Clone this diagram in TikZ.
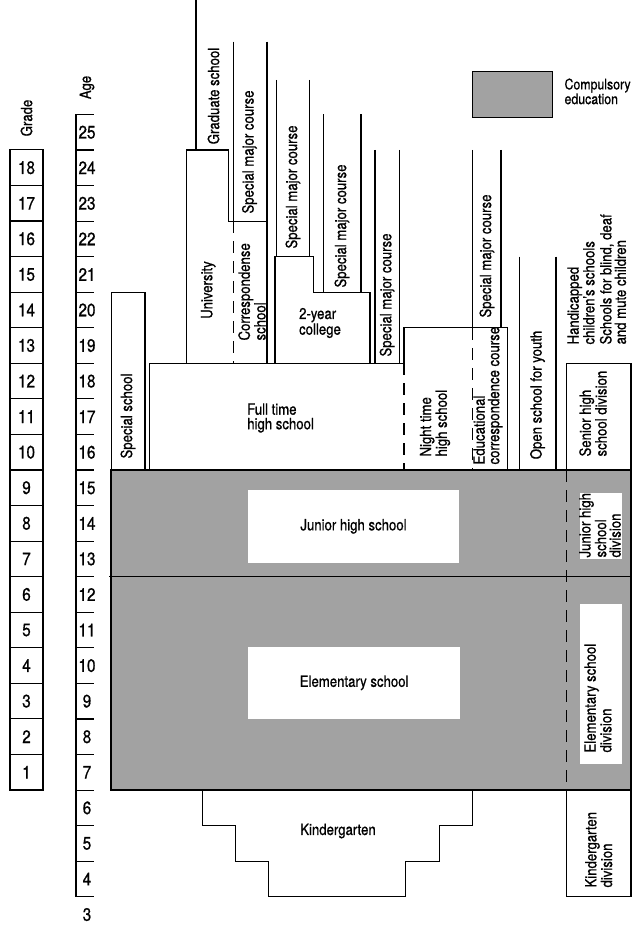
\documentclass[tikz,border=0pt]{standalone}
\usepackage{fontspec}
\setmainfont[FakeStretch=0.85,FakeBold=0.8]{TeX Gyre Heros}
\newcommand\lbfont{\fontsize{15.5}{14.5}\selectfont}
\newcommand\lgfont{\fontsize{14.5}{13.5}\selectfont}
\newcommand\nmfont{\fontsize{18}{18}\selectfont}
\definecolor{compul}{RGB}{162,162,162}
\tikzset{
  dsh/.style={dash pattern=on 12pt off 8pt},
  lbl/.style={font=\lbfont, inner sep=0pt, align=left},
  vlbl/.style={lbl, rotate=90},
  num/.style={font=\nmfont, inner sep=0pt},
  cell/.style={draw, minimum width=33pt, minimum height=35.56pt, inner sep=0pt, font=\nmfont},
  wbox/.style={fill=white, draw=none, inner sep=0pt},
}
\begin{document}
\begin{tikzpicture}[x=1pt,y=-1pt,line width=1.1pt]
\useasboundingbox (0,0) rectangle (632,925);

% ---------- grade column
\node[vlbl] (gradeT) at (26.5,118) {Grade};
\foreach \g in {1,...,18}
  \node[cell] (g\g) at (26.5,{790-(\g-0.5)*35.56}) {\g};

% ---------- age column
\node[vlbl] (ageT) at (87,87.5) {Age};
\coordinate (atop) at (76,114.44);
\coordinate (abot) at (76,896.67);
\draw (atop) -- (abot);
\foreach \a in {3,...,25} {
  \coordinate (t\a) at (76,{150+(24-\a)*35.56});
  \coordinate (u\a) at (94,{150+(24-\a)*35.56});
  \draw (t\a) -- (u\a);
  \node[num] (a\a) at (87,{150+(24-\a)*35.56+17.78}) {\a};
}

% ---------- legend
\node[draw, fill=compul, minimum width=80.4pt, minimum height=45.6pt, inner sep=0pt] (leg) at (512.5,94.5) {};
\node[lbl, font=\lgfont, anchor=north west] (legT) at (564,78) {Compulsory\\education};

% ---------- compulsory education block
\fill[compul] (111,470) rectangle (631,790);
\draw (111,470) rectangle (631,790);
\draw (109,576.67) -- (631,576.67);
\node[wbox, minimum width=211.6pt, minimum height=72.7pt, font=\lbfont] (jhs) at (353.5,526.35) {Junior high school};
\node[wbox, minimum width=211.7pt, minimum height=72.3pt, font=\lbfont] (els) at (354.15,682.85) {Elementary school};
\node[wbox, minimum width=41.7pt, minimum height=66pt] (jhdbox) at (600.85,526) {};
\node[wbox, minimum width=41.7pt, minimum height=160.3pt] (esdbox) at (600.85,684.15) {};
\node[vlbl, anchor=west] (jhd) at (600,558) {Junior high\\school\\division};
\node[vlbl, anchor=west] (esd) at (598,753) {Elementary school\\division};

% ---------- kindergarten
\draw (202.7,790) -- (202.7,825.56) -- (235.7,825.56) -- (235.7,861.11) -- (268.3,861.11)
  -- (268.3,896.67) -- (405.7,896.67) -- (405.7,861.11) -- (439.3,861.11)
  -- (439.3,825.56) -- (472.7,825.56) -- (472.7,790);
\node[lbl] (kg) at (338,831) {Kindergarten};

% ---------- special school
\draw (111.7,470) -- (111.7,292.22) -- (145,292.22) -- (145,470);
\node[vlbl] (sps) at (128,416) {Special school};

% ---------- full time high school
\draw (149.3,470) -- (149.3,363.33) -- (404,363.33);
\node[lbl, anchor=west] (fths) at (246.7,418) {Full time\\high school};

% ---------- university, graduate school, correspondence
\draw (186.7,363.33) -- (186.7,150) -- (228.3,150) -- (228.3,221.11) -- (267,221.11) -- (267,363.33);
\draw (196,0) -- (196,150);
\node[vlbl] (grad) at (213.5,96) {Graduate school};
\node[vlbl] (univ) at (208.3,290) {University};
\draw (233.3,41.7) -- (233.3,221.11);
\draw (267,41.7) -- (267,221.11);
\node[vlbl] (smA) at (249.5,152) {Special major course};
\draw[dsh] (233.3,221.11) -- (233.3,363.33);
\node[vlbl, anchor=west] (corr) at (252,341) {Correspondense\\school};

% ---------- 2-year college
\draw (275,363.33) -- (275,256.67) -- (313.3,256.67) -- (313.3,292.22) -- (370,292.22) -- (370,363.33);
\node[lbl] (col) at (320,323) {2-year\\college};
\draw (276.7,80) -- (276.7,256.67);
\draw (309.3,80) -- (309.3,256.67);
\node[vlbl] (smB) at (293,187) {Special major course};
\draw (323.3,114.44) -- (323.3,292.22);
\draw (361,114.44) -- (361,292.22);
\node[vlbl] (smC) at (342,226) {Special major course};
\draw (375,150) -- (375,363.33);
\draw (399.3,150) -- (399.3,363.33);
\node[vlbl] (smD) at (387.2,295) {Special major course};

% ---------- night time high school, correspondence course
\draw (404,363.33) -- (404,327.78) -- (507.7,327.78) -- (507.7,470);
\draw[dsh] (404,363.33) -- (404,470);
\node[vlbl, anchor=west] (nths) at (435,457) {Night time\\high school};
\draw (472.5,150) -- (472.5,327.78);
\draw (501,150) -- (501,327.78);
\node[vlbl] (smE) at (487,256) {Special major course};
\draw[dsh] (472.5,327.78) -- (472.5,470);
\node[vlbl, anchor=west] (ecc) at (488,465) {Educational\\correspondence course};

% ---------- open school
\draw (519.3,256.67) -- (519.3,470);
\draw (556,256.67) -- (556,470);
\node[vlbl] (osy) at (537.5,395) {Open school for youth};

% ---------- handicapped children's schools
\draw (566.7,470) -- (566.7,363.33) -- (631,363.33) -- (631,896.67) -- (566.7,896.67) -- (566.7,790);
\draw[dsh] (566.7,470) -- (566.7,790);
\node[vlbl, anchor=west] (hcs) at (581,345) {Handicapped\\children's schools};
\node[vlbl, anchor=west] (sbd) at (613,345) {Schools for blind, deaf\\and mute children};
\node[vlbl, anchor=west] (shd) at (593,457) {Senior high\\school division};
\node[vlbl, anchor=west] (kgd) at (598.7,888) {Kindergarten\\division};
\end{tikzpicture}
\end{document}
